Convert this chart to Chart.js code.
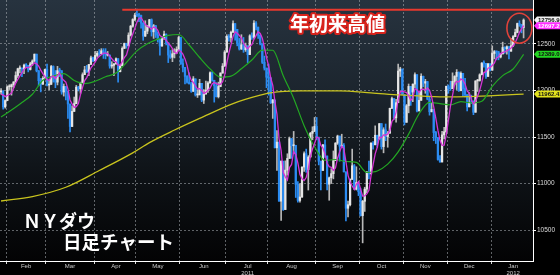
<!DOCTYPE html>
<html><head><meta charset="utf-8">
<style>html,body{margin:0;padding:0;background:#000;overflow:hidden}canvas{display:block}</style>
<script src="https://cdn.jsdelivr.net/npm/chart.js@4.4.1/dist/chart.umd.min.js"></script>
</head><body>
<canvas id="c" width="560" height="275"></canvas>
<script>
// ---------- DATA ----------
const MONTHS = ['2011-01','2011-02','2011-03','2011-04','2011-05','2011-06','2011-07','2011-08','2011-09','2011-10','2011-11','2011-12','2012-01'];
const TRADING_DAYS = [
 [27,28,31],
 [1,2,3,4,7,8,9,10,11,14,15,16,17,18,22,23,24,25,28],
 [1,2,3,4,7,8,9,10,11,14,15,16,17,18,21,22,23,24,25,28,29,30,31],
 [1,4,5,6,7,8,11,12,13,14,15,18,19,20,21,25,26,27,28,29],
 [2,3,4,5,6,9,10,11,12,13,16,17,18,19,20,23,24,25,26,27,31],
 [1,2,3,6,7,8,9,10,13,14,15,16,17,20,21,22,23,24,27,28,29,30],
 [1,5,6,7,8,11,12,13,14,15,18,19,20,21,22,25,26,27,28,29],
 [1,2,3,4,5,8,9,10,11,12,15,16,17,18,19,22,23,24,25,26,29,30,31],
 [1,2,6,7,8,9,12,13,14,15,16,19,20,21,22,23,26,27,28,29,30],
 [3,4,5,6,7,10,11,12,13,14,17,18,19,20,21,24,25,26,27,28,31],
 [1,2,3,4,7,8,9,10,11,14,15,16,17,18,21,22,23,25,28,29,30],
 [1,2,5,6,7,8,9,12,13,14,15,16,19,20,21,22,23,27,28,29,30],
 [3,4,5,6,9,10,11,12,13,17,18,19,20,23,24,25,26,27,30,31]
];
const MONTH_TICK_LABELS = [['Feb'],['Mar'],['Apr'],['May'],['Jun'],['Jul','2011'],['Aug'],['Sep'],['Oct'],['Nov'],['Dec'],['Jan','2012']];
const Y_TICKS = [10500, 11000, 11500, 12000, 12500, 13000];

const OPEN = [
 11985,11989,11824,
 11892,12040,12041,12062,12092,12161,12234,12240,12229,12273,12268,12226,12288,12318,12391,12212,12105,12068,12130,
 12226,12058,12066,12258,12170,12090,12214,12213,11984,12044,11993,11855,11613,11775,11858,12036,12018,12086,12170,12221,12198,12280,12351,
 12320,12377,12400,12394,12427,12409,12380,12381,12263,12271,12286,12342,12202,12267,12453,12506,12480,12595,12691,12763,
 12811,12808,12807,12724,12585,12638,12685,12761,12631,12696,12596,12548,12479,12561,12606,12513,12381,12357,12395,12403,12442,
 12570,12290,12248,12152,12090,12071,11991,12125,11952,11953,12077,11897,11962,12004,12081,12191,12110,12050,11934,12043,12188,12262,
 12414,12582,12570,12626,12719,12657,12506,12447,12492,12438,12480,12386,12588,12572,12724,12681,12593,12502,12303,12241,
 12143,12133,11867,11897,11384,11445,10810,11240,10720,11144,11270,11483,11406,11411,10991,10818,10855,11177,11321,11150,11285,11540,11560,
 11614,11494,11240,11140,11415,11296,10993,11062,11106,11247,11434,11510,11401,11409,11125,10734,10772,11044,11191,10939,11011,
 10913,10655,10809,10940,11124,11103,11433,11416,11519,11478,11644,11397,11577,11505,11541,11809,11913,11706,11869,12209,12231,
 11955,11658,11836,12044,11983,12069,12170,11780,11894,12153,12079,12096,11906,11771,11796,11548,11494,11258,11231,11523,11556,
 12046,12020,12019,12098,12151,12196,11997,12185,12021,11955,11824,11869,11866,11766,12103,12108,12169,12295,12292,12151,12288,
 12218,12398,12418,12416,12360,12393,12462,12449,12471,12422,12482,12579,12624,12720,12709,12676
];
const HIGH = [
 12020,12000,11900,
 12050,12063,12070,12095,12201,12240,12265,12245,12285,12290,12270,12304,12330,12392,12391,12215,12130,12150,12230,
 12285,12110,12270,12265,12215,12260,12240,12213,12070,12045,11995,11855,11835,11930,12055,12045,12090,12190,12260,12270,12282,12369,12360,
 12420,12421,12440,12450,12450,12450,12420,12381,12310,12290,12350,12342,12275,12470,12510,12508,12620,12700,12772,12830,
 12876,12830,12810,12730,12750,12700,12765,12770,12710,12700,12630,12550,12580,12640,12608,12513,12430,12440,12450,12470,12585,
 12570,12340,12248,12160,12190,12090,12150,12125,12010,12120,12077,12010,12100,12095,12200,12200,12110,12085,12090,12190,12290,12430,
 12600,12600,12640,12750,12719,12657,12560,12600,12570,12510,12480,12600,12620,12751,12740,12681,12600,12502,12370,12241,
 12285,12140,11905,11897,11570,11445,11244,11240,11244,11320,11500,11483,11560,11411,11020,11000,11180,11340,11370,11300,11550,11610,11710,
 11710,11500,11240,11420,11470,11296,11070,11160,11350,11440,11520,11510,11530,11430,11125,10810,11050,11370,11205,11180,11011,
 10950,10820,10960,11130,11240,11440,11450,11620,11519,11645,11644,11600,11640,11560,11810,11930,11913,11905,12284,12250,12231,
 11955,11850,12070,12044,12070,12190,12170,11980,12180,12155,12120,12097,11940,11870,11796,11560,11494,11300,11560,11605,12046,
 12060,12100,12190,12160,12225,12200,12200,12185,12130,11955,11975,11950,11890,12105,12120,12180,12300,12320,12292,12290,12288,
 12480,12430,12420,12420,12400,12520,12470,12480,12471,12560,12590,12660,12725,12750,12710,12770
];
const LOW = [
 11960,11800,11810,
 11890,12010,11950,12030,12090,12140,12190,12150,12180,12250,12200,12220,12270,12310,12200,12050,11985,12065,12130,
 12050,12010,12065,12090,12030,12060,12150,11960,11940,11900,11700,11555,11612,11775,11858,11995,11970,12085,12170,12195,12160,12280,12310,
 12320,12360,12370,12394,12345,12340,12370,12240,12240,12160,12283,12090,12200,12267,12450,12455,12480,12585,12680,12750,
 12795,12740,12670,12540,12580,12610,12680,12585,12560,12570,12520,12380,12475,12550,12490,12300,12345,12310,12350,12400,12442,
 12280,12200,12070,12080,12070,11980,11990,11940,11925,11953,11880,11860,11960,11980,12080,12100,11875,11930,11920,12040,12185,12260,
 12410,12530,12520,12625,12540,12480,12435,12440,12410,12420,12300,12386,12550,12560,12650,12560,12490,12290,12220,12030,
 11950,11860,11700,11383,11140,10809,10604,10711,10720,11090,11270,11270,11320,10850,10800,10800,10850,11130,11120,10930,11285,11470,11560,
 11470,11200,10930,11140,11280,10930,10820,11000,11050,11247,11420,11240,11400,11125,10597,10640,10760,11044,10935,10930,10870,
 10650,10362,10700,10900,11050,11103,11370,11416,11390,11478,11370,11330,11460,11390,11541,11805,11690,11660,11869,12150,11955,
 11630,11658,11760,11840,11880,12030,11770,11780,11894,12040,11970,11900,11735,11770,11460,11430,11250,11230,11231,11480,11550,
 11970,12000,12019,12060,12010,11990,11997,11940,11930,11780,11824,11860,11740,11766,11990,12100,12169,12250,12130,12151,12210,
 12218,12340,12330,12330,12350,12393,12400,12390,12340,12422,12470,12579,12620,12690,12620,12565
];
const CLOSE = [
 11989,11824,11892,
 12040,12041,12062,12092,12161,12234,12240,12229,12273,12268,12226,12288,12318,12391,12212,12105,12068,12130,12226,
 12058,12066,12258,12170,12090,12214,12213,11984,12044,11993,11855,11613,11775,11858,12036,12018,12086,12170,12221,12198,12280,12351,12320,
 12377,12400,12394,12427,12409,12380,12381,12263,12271,12286,12342,12202,12267,12453,12506,12480,12595,12691,12763,12811,
 12808,12807,12724,12585,12638,12685,12761,12631,12696,12596,12548,12479,12561,12606,12513,12381,12357,12395,12403,12442,12570,
 12290,12248,12152,12090,12071,11991,12125,11952,11953,12077,11897,11962,12004,12081,12191,12110,12050,11934,12043,12188,12262,12414,
 12582,12570,12626,12719,12657,12506,12447,12492,12438,12480,12386,12588,12572,12724,12681,12593,12502,12303,12241,12143,
 12133,11867,11897,11384,11445,10810,11240,10720,11144,11270,11483,11406,11411,10991,10818,10855,11177,11321,11150,11285,11540,11560,11614,
 11494,11240,11140,11415,11296,10993,11062,11106,11247,11434,11510,11401,11409,11125,10734,10772,11044,11191,10939,11011,10913,
 10655,10809,10940,11124,11103,11433,11416,11519,11478,11644,11397,11577,11505,11541,11809,11913,11706,11869,12209,12231,11955,
 11658,11836,12044,11983,12069,12170,11780,11894,12153,12079,12096,11906,11771,11796,11548,11494,11258,11231,11523,11556,12046,
 12020,12019,12098,12151,12196,11997,12185,12021,11955,11824,11869,11866,11766,12103,12108,12169,12295,12292,12151,12288,12218,
 12398,12418,12416,12360,12393,12462,12449,12471,12422,12482,12579,12624,12720,12709,12676,12757
];
// short moving average (magenta), read per session
const MA_SHORT = [
 11961,11951,11934,
 11946,11957,11972,12025,12079,12118,12158,12191,12227,12249,12247,12257,12275,12298,12287,12263,12219,12181,12148,
 12117,12110,12148,12156,12128,12160,12189,12134,12109,12090,12018,11898,11856,11819,11827,11860,11955,12034,12106,12139,12191,12244,12274,
 12305,12346,12368,12384,12401,12402,12398,12372,12341,12316,12309,12273,12274,12310,12354,12382,12460,12545,12607,12668,
 12734,12776,12783,12747,12712,12688,12679,12660,12682,12674,12646,12590,12576,12558,12541,12508,12484,12450,12410,12396,12433,
 12420,12391,12340,12270,12170,12110,12086,12046,12018,12020,12001,11968,11979,12004,12027,12070,12087,12073,12066,12065,12095,12168,
 12298,12403,12491,12582,12631,12616,12591,12564,12508,12473,12449,12477,12493,12550,12590,12632,12614,12561,12464,12356,
 12264,12137,12056,11885,11745,11481,11355,11120,11072,11037,11171,11205,11343,11312,11222,11096,11050,11032,11064,11158,11295,11371,11430,
 11499,11490,11410,11381,11317,11217,11181,11174,11141,11168,11272,11340,11400,11376,11236,11088,11017,10973,10936,10991,11020,
 10942,10865,10866,10888,10926,11082,11203,11319,11390,11498,11491,11523,11520,11533,11566,11669,11695,11768,11901,11986,11994,
 11984,11978,11945,11895,11918,12020,12009,11979,12013,12015,12000,12026,12001,11930,11823,11703,11573,11465,11411,11412,11523,
 11675,11833,11948,12067,12097,12092,12125,12110,12071,11996,11971,11907,11856,11886,11942,12002,12088,12193,12203,12239,12249,
 12269,12295,12348,12362,12397,12410,12416,12427,12439,12457,12481,12516,12565,12623,12662,12697
];
// medium moving average (green), read every 5 sessions
const MA_MID_DATES = ['2011-01-27','2011-02-03','2011-02-10','2011-02-17','2011-02-25','2011-03-04','2011-03-11','2011-03-18','2011-03-25','2011-04-01','2011-04-08','2011-04-15','2011-04-25','2011-05-02','2011-05-09','2011-05-16','2011-05-23','2011-05-31','2011-06-07','2011-06-14','2011-06-21','2011-06-28','2011-07-06','2011-07-13','2011-07-20','2011-07-27','2011-08-03','2011-08-10','2011-08-17','2011-08-24','2011-08-31','2011-09-08','2011-09-15','2011-09-22','2011-09-29','2011-10-06','2011-10-13','2011-10-20','2011-10-27','2011-11-03','2011-11-10','2011-11-17','2011-11-25','2011-12-02','2011-12-09','2011-12-16','2011-12-23','2012-01-03','2012-01-10','2012-01-18','2012-01-25'];
const MA_MID_VALUES = [11715,11790,11870,11960,12110,12155,12182,12108,12074,12099,12148,12188,12301,12426,12503,12552,12592,12602,12489,12355,12232,12143,12155,12233,12328,12435,12433,12159,11915,11622,11396,11248,11258,11237,11228,11120,11135,11208,11341,11531,11750,11872,11858,11845,11881,11866,11884,12044,12160,12231,12389];
// long moving average (yellow)
const MA_LONG_DATES = ['2011-01-27','2011-02-17','2011-03-14','2011-04-05','2011-04-28','2011-05-10','2011-05-26','2011-06-14','2011-07-07','2011-07-26','2011-08-02','2011-08-22','2011-09-19','2011-10-10','2011-10-28','2011-11-25','2011-12-15','2012-01-10','2012-01-25'];
const MA_LONG_VALUES = [10812,10860,10960,11140,11330,11440,11575,11700,11860,11950,11975,11995,11995,11975,11952,11932,11935,11950,11962];

const LAST_VALUE_TEXTS = ['12756.96','12697.20','12389.05','11962.41'];
const YTD_HIGH = 12868;
const YTD_LINE_FROM = '2011-04-20';
const CIRCLE_DATE = '2012-01-23';
const CIRCLE_VALUE = 12670;
const TITLE_TEXT = '年初来高値';
const NOTE_LINE1 = 'ＮＹダウ';
const NOTE_LINE2 = '日足チャート';

// ---------- BUILD ----------
const n = CLOSE.length;
[OPEN, HIGH, LOW, MA_SHORT].forEach((a, k) => { if (a.length !== n) throw new Error('length mismatch ' + k + ': ' + a.length + ' vs ' + n); });
if (MA_MID_DATES.length !== MA_MID_VALUES.length || MA_LONG_DATES.length !== MA_LONG_VALUES.length) throw new Error('MA length mismatch');

const LABELS = [];
const monthStart = [], monthMid = [];
MONTHS.forEach((m, mi) => {
  const first = LABELS.length;
  TRADING_DAYS[mi].forEach(d => LABELS.push(m + '-' + String(d).padStart(2, '0')));
  if (mi >= 1) { monthStart.push(first); monthMid.push(first + Math.floor(TRADING_DAYS[mi].length / 2)); }
});
const tickLabelAt = {};
monthMid.forEach((idx, k) => { tickLabelAt[idx] = MONTH_TICK_LABELS[k]; });
const startSet = new Set(monthStart);

const UP_BODY = '#e6e6e6', UP_WICK = '#b8b8b8', DOWN = '#2b8cf2';
const isUp = CLOSE.map((c, i) => c >= OPEN[i]);
const bodyColors = isUp.map(u => u ? UP_BODY : DOWN);
const wickColors = isUp.map(u => u ? UP_WICK : DOWN);

const Y_MIN = 10167, Y_MAX = 12973;
const GRID = 'rgba(170,175,180,0.55)';

const bgPlugin = {
  id: 'bg',
  beforeDraw(chart) {
    const { ctx, chartArea: a } = chart;
    ctx.save();
    ctx.fillStyle = '#000';
    ctx.fillRect(0, 0, chart.width, chart.height);
    const g = ctx.createLinearGradient(0, a.top, 0, a.bottom);
    g.addColorStop(0, '#27333f');
    g.addColorStop(0.35, '#1c252e');
    g.addColorStop(0.7, '#0d1115');
    g.addColorStop(1, '#030304');
    ctx.fillStyle = g;
    ctx.fillRect(a.left, a.top, a.right - a.left, a.bottom - a.top);
    ctx.restore();
  }
};

const annoPlugin = {
  id: 'anno',
  afterDatasetsDraw(chart) {
    const { ctx, chartArea: a, scales: { x, y } } = chart;
    ctx.save();
    const yl = y.getPixelForValue(YTD_HIGH);
    const x0 = x.getPixelForValue(LABELS.indexOf(YTD_LINE_FROM));
    ctx.strokeStyle = '#e8392e';
    ctx.lineWidth = 2;
    ctx.beginPath(); ctx.moveTo(x0, yl); ctx.lineTo(a.right, yl); ctx.stroke();
    const cx = x.getPixelForValue(LABELS.indexOf(CIRCLE_DATE));
    const cy = y.getPixelForValue(CIRCLE_VALUE);
    ctx.strokeStyle = '#e0423a';
    ctx.lineWidth = 1.6;
    ctx.beginPath(); ctx.ellipse(cx, cy, 12.5, 15, 0, 0, Math.PI * 2); ctx.stroke();
    ctx.restore();
  },
  afterDraw(chart) {
    const { ctx, chartArea: a, scales: { y } } = chart;
    ctx.save();
    ctx.textBaseline = 'middle';
    ctx.textAlign = 'left';
    const tags = [
      { v: MA_LONG_VALUES[MA_LONG_VALUES.length - 1], t: LAST_VALUE_TEXTS[3], bg: '#e2e21e', fg: '#111' },
      { v: MA_MID_VALUES[MA_MID_VALUES.length - 1], t: LAST_VALUE_TEXTS[2], bg: '#22d422', fg: '#111' },
      { v: CLOSE[n - 1], t: LAST_VALUE_TEXTS[0], bg: '#f0f0f0', fg: '#111' },
      { v: MA_SHORT[n - 1], t: LAST_VALUE_TEXTS[1], bg: '#ff2eff', fg: '#fff' }
    ];
    tags.forEach(tg => {
      const ty = y.getPixelForValue(tg.v);
      ctx.fillStyle = tg.bg;
      ctx.beginPath();
      ctx.moveTo(a.right + 1, ty);
      ctx.lineTo(a.right + 4, ty - 3.5);
      ctx.lineTo(560, ty - 3.5);
      ctx.lineTo(560, ty + 3.5);
      ctx.lineTo(a.right + 4, ty + 3.5);
      ctx.closePath();
      ctx.fill();
      ctx.fillStyle = tg.fg;
      ctx.font = 'bold 6px "Liberation Sans"';
      ctx.fillText(tg.t, a.right + 5, ty + 0.5);
    });
    ctx.font = 'bold 19px "Noto Sans CJK JP"';
    ctx.lineJoin = 'round';
    ctx.lineWidth = 4;
    ctx.strokeStyle = '#d8231c';
    ctx.strokeText(TITLE_TEXT, 290, 24);
    ctx.fillStyle = '#ffffff';
    ctx.fillText(TITLE_TEXT, 290, 24);
    ctx.font = 'bold 18px "Noto Sans CJK JP"';
    ctx.fillText(NOTE_LINE1, 23, 221);
    ctx.font = 'bold 18.5px "Noto Sans CJK JP"';
    ctx.fillText(NOTE_LINE2, 63, 242);
    ctx.restore();
  }
};

new Chart(document.getElementById('c'), {
  data: {
    labels: LABELS,
    datasets: [
      { type: 'line', data: MA_SHORT, borderColor: '#d633d6', borderWidth: 1.3, pointRadius: 0, tension: 0, order: 0 },
      { type: 'line', data: MA_MID_DATES.map((d, i) => ({ x: d, y: MA_MID_VALUES[i] })), borderColor: '#23a823', borderWidth: 1.2, pointRadius: 0, cubicInterpolationMode: 'monotone', order: 1 },
      { type: 'line', data: MA_LONG_DATES.map((d, i) => ({ x: d, y: MA_LONG_VALUES[i] })), borderColor: '#c9c41e', borderWidth: 1.3, pointRadius: 0, cubicInterpolationMode: 'monotone', order: 1 },
      { type: 'bar', data: OPEN.map((o, i) => [o, CLOSE[i]]), backgroundColor: bodyColors, barThickness: 1.6, grouped: false, minBarLength: 1, borderWidth: 0, order: 2 },
      { type: 'bar', data: LOW.map((l, i) => [l, HIGH[i]]), backgroundColor: wickColors, barThickness: 1, grouped: false, borderWidth: 0, order: 3 }
    ]
  },
  options: {
    responsive: false,
    animation: false,
    devicePixelRatio: 1,
    layout: { padding: 0 },
    plugins: { legend: { display: false }, tooltip: { enabled: false } },
    scales: {
      x: {
        type: 'category',
        offset: true,
        grid: {
          offset: true,
          lineWidth: 1,
          color: c => startSet.has(c.index) ? GRID : 'rgba(0,0,0,0)',
          tickColor: c => startSet.has(c.index) ? '#dddddd' : 'rgba(0,0,0,0)',
          tickLength: 3,
          tickBorderDash: []
        },
        border: { display: true, color: '#ffffff', width: 1, dash: [2, 2] },
        ticks: {
          autoSkip: false, maxRotation: 0, minRotation: 0, padding: -1,
          color: '#cccccc', font: { size: 6, family: 'Liberation Sans', lineHeight: 1.15 },
          callback: (v, i) => tickLabelAt[i] || ''
        },
        afterFit(s) { s.height = 14; s.paddingLeft = 0; s.paddingRight = 0; }
      },
      y: {
        position: 'right',
        min: Y_MIN, max: Y_MAX,
        afterBuildTicks(s) { s.ticks = Y_TICKS.map(v => ({ value: v })); },
        ticks: {
          color: '#dddddd', padding: 1,
          font: { size: 6.5, family: 'Liberation Sans' },
          callback: v => String(v)
        },
        grid: { color: GRID, lineWidth: 1, tickColor: '#ffffff', tickLength: 3, tickBorderDash: [] },
        border: { display: true, color: '#ffffff', width: 1, dash: [2, 2] },
        afterFit(s) { s.width = 27; s.paddingTop = 0; s.paddingBottom = 0; }
      }
    }
  },
  plugins: [bgPlugin, annoPlugin]
});
</script>
</body></html>
